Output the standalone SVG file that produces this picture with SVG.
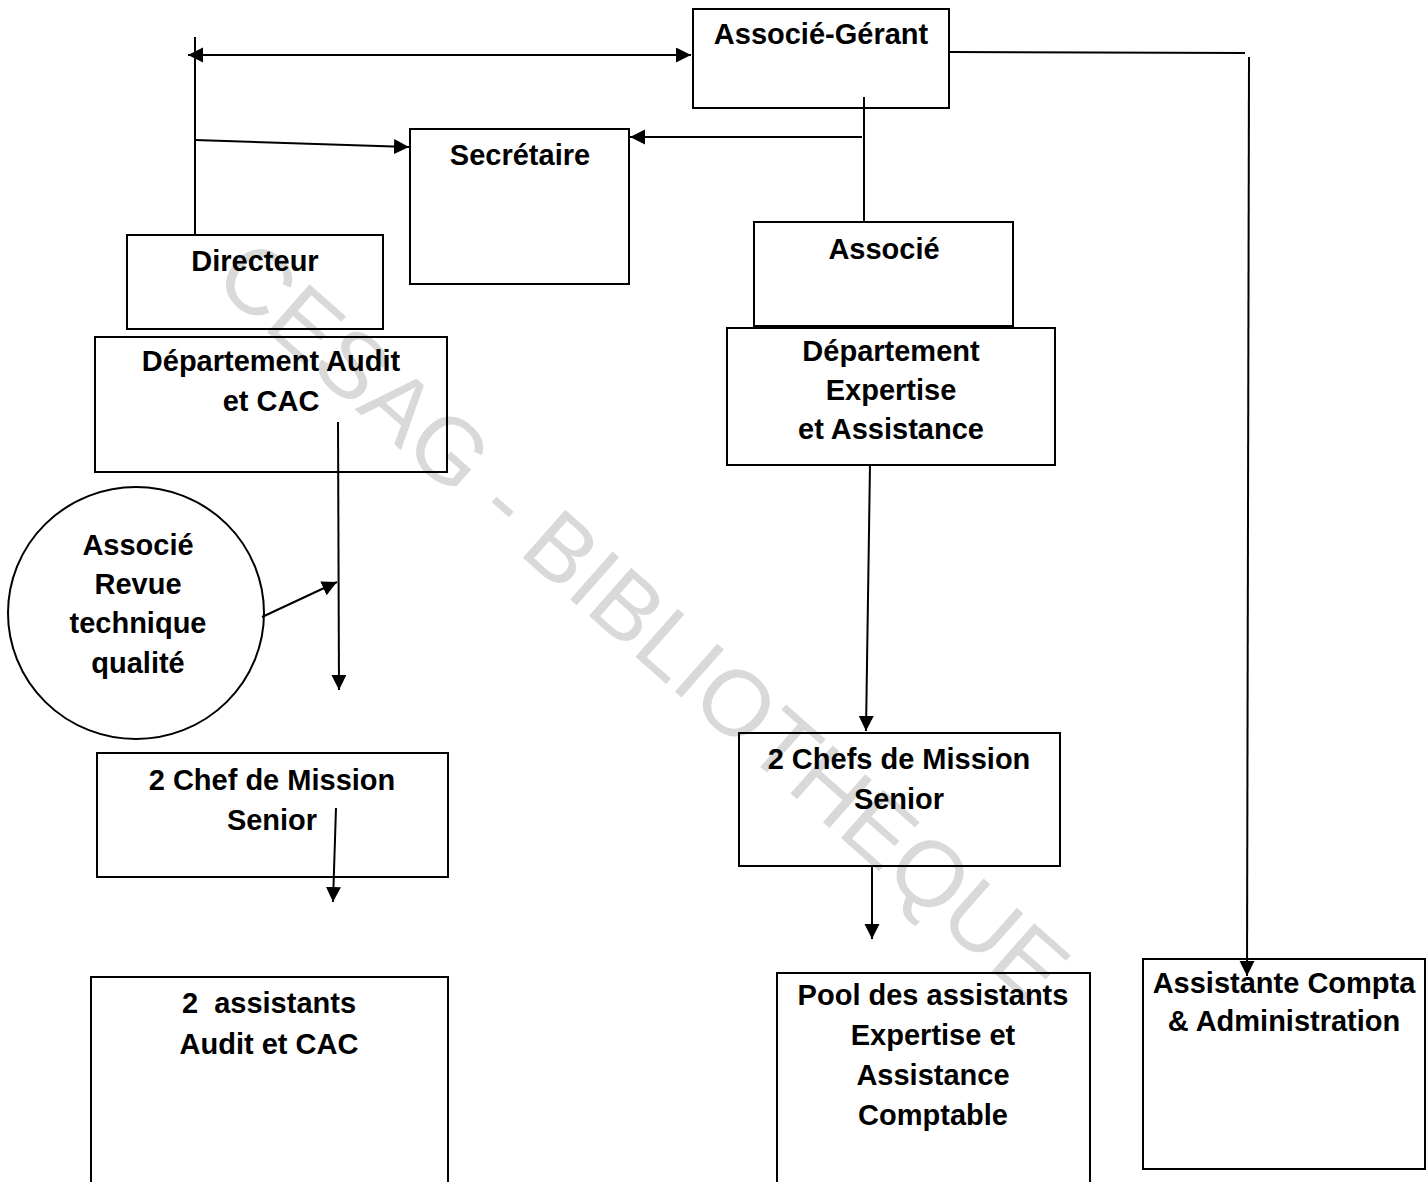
<svg xmlns="http://www.w3.org/2000/svg" width="1427" height="1182" viewBox="0 0 1427 1182">
  <style>
    .box { fill: none; stroke: #000; stroke-width: 2; }
    .lbl { font-family: "Liberation Sans", Arial, sans-serif; font-weight: bold; font-size: 29px; fill: #000; text-anchor: middle; }
    .wire { fill: none; stroke: #000; stroke-width: 2; }
    .arrow { fill: none; stroke: #000; stroke-width: 2; marker-end: url(#head); }
    .wm { font-family: "Liberation Sans", Arial, sans-serif; font-size: 93px; fill: #d9d9d9; text-anchor: middle; }
  </style>
  <defs>
    <marker id="head" markerUnits="userSpaceOnUse" markerWidth="16" markerHeight="16" refX="15" refY="7.5" orient="auto-start-reverse">
      <path d="M0,0 L15,7.5 L0,15 Z" fill="#000"/>
    </marker>
  </defs>

  <rect width="1427" height="1182" fill="#fff"/>

  <!-- library watermark -->
  <text class="wm" transform="translate(622,645) rotate(41.4)">CESAG - BIBLIOTHEQUE</text>

  <g id="connectors">
    <line class="wire" x1="195" y1="37" x2="195" y2="235"/>
    <line class="arrow" x1="188" y1="55" x2="691" y2="55" marker-start="url(#head)"/>
    <line class="arrow" x1="195" y1="140" x2="409" y2="147"/>
    <line class="arrow" x1="862" y1="137" x2="630" y2="137"/>
    <line class="wire" x1="864" y1="97" x2="864" y2="222"/>
    <line class="wire" x1="950" y1="52" x2="1245" y2="53"/>
    <line class="arrow" x1="1249" y1="57" x2="1247" y2="976"/>
    <line class="arrow" x1="338" y1="422" x2="339" y2="690"/>
    <line class="arrow" x1="262" y1="617" x2="337" y2="582"/>
    <line class="arrow" x1="336" y1="808" x2="333" y2="902"/>
    <line class="arrow" x1="870" y1="465" x2="866" y2="731"/>
    <line class="arrow" x1="872" y1="866" x2="872" y2="939"/>
  </g>

  <g id="associe-gerant">
    <rect class="box" x="693" y="9" width="256" height="99"/>
    <text class="lbl" x="821" y="44">Associé-Gérant</text>
  </g>

  <g id="secretaire">
    <rect class="box" x="410" y="129" width="219" height="155"/>
    <text class="lbl" x="520" y="165">Secrétaire</text>
  </g>

  <g id="directeur">
    <rect class="box" x="127" y="235" width="256" height="94"/>
    <text class="lbl" x="255" y="271">Directeur</text>
  </g>

  <g id="dept-audit">
    <rect class="box" x="95" y="337" width="352" height="135"/>
    <text class="lbl" x="271" y="371">Département Audit</text>
    <text class="lbl" x="271" y="411">et CAC</text>
  </g>

  <g id="associe">
    <rect class="box" x="754" y="222" width="259" height="104"/>
    <text class="lbl" x="884" y="259">Associé</text>
  </g>

  <g id="dept-expertise">
    <rect class="box" x="727" y="328" width="328" height="137"/>
    <text class="lbl" x="891" y="361">Département</text>
    <text class="lbl" x="891" y="400">Expertise</text>
    <text class="lbl" x="891" y="439">et Assistance</text>
  </g>

  <g id="revue-qualite">
    <ellipse class="box" cx="136" cy="613" rx="128" ry="126"/>
    <text class="lbl" x="138" y="555">Associé</text>
    <text class="lbl" x="138" y="594">Revue</text>
    <text class="lbl" x="138" y="633">technique</text>
    <text class="lbl" x="138" y="673">qualité</text>
  </g>

  <g id="chef-mission-audit">
    <rect class="box" x="97" y="753" width="351" height="124"/>
    <text class="lbl" x="272" y="790">2 Chef de Mission</text>
    <text class="lbl" x="272" y="830">Senior</text>
  </g>

  <g id="chefs-mission-expertise">
    <rect class="box" x="739" y="733" width="321" height="133"/>
    <text class="lbl" x="899" y="769">2 Chefs de Mission</text>
    <text class="lbl" x="899" y="809">Senior</text>
  </g>

  <g id="assistants-audit">
    <rect class="box" x="91" y="977" width="357" height="230"/>
    <text class="lbl" x="269" y="1013" xml:space="preserve">2  assistants</text>
    <text class="lbl" x="269" y="1054">Audit et CAC</text>
  </g>

  <g id="pool-assistants">
    <rect class="box" x="777" y="973" width="313" height="230"/>
    <text class="lbl" x="933" y="1005">Pool des assistants</text>
    <text class="lbl" x="933" y="1045">Expertise et</text>
    <text class="lbl" x="933" y="1085">Assistance</text>
    <text class="lbl" x="933" y="1125">Comptable</text>
  </g>

  <g id="assistante-compta">
    <rect class="box" x="1143" y="959" width="282" height="210"/>
    <text class="lbl" x="1284" y="993">Assistante Compta</text>
    <text class="lbl" x="1284" y="1031">&amp; Administration</text>
  </g>
</svg>
